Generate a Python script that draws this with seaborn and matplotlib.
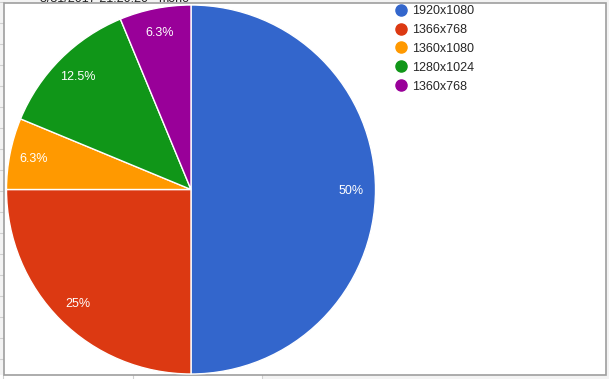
import numpy as np
import matplotlib.pyplot as plt
import matplotlib.patches as mpatches
from matplotlib.lines import Line2D
import seaborn as sns

# Chart data
resolutions = ['1920x1080', '1366x768', '1360x1080', '1280x1024', '1360x768']
counts = [8, 4, 1, 2, 1]
pct_labels = ['50%', '25%', '6.3%', '12.5%', '6.3%']
colors = ['#3366cc', '#dc3912', '#ff9900', '#109618', '#990099']
title_cells = ['3/31/2017 21:20:20', 'mono']

sns.set_theme(style='white')
plt.rcParams['font.family'] = ['Liberation Sans', 'DejaVu Sans']

W, H = 609, 379
fig = plt.figure(figsize=(W / 100, H / 100), dpi=100)
fig.patch.set_facecolor('#f3f3f3')

def fx(px):
    return px / W

def fy(py):
    return 1 - py / H

# spreadsheet cells behind the chart
for yy in range(2, 379, 21):
    fig.add_artist(Line2D([0, fx(4)], [fy(yy), fy(yy)], color='#cfcfcf', lw=0.8, zorder=-3))
fig.add_artist(mpatches.Rectangle((0, 0), fx(262), fy(375), facecolor='white',
                                  edgecolor='none', transform=fig.transFigure, zorder=-3))
for xx in [3, 133, 262]:
    fig.add_artist(Line2D([fx(xx), fx(xx)], [0, fy(375)], color='#d0d0d0', lw=0.8, zorder=-3))

# chart frame
fig.add_artist(mpatches.Rectangle((fx(4), fy(375)), fx(606) - fx(4), fy(3) - fy(375),
                                  facecolor='white', edgecolor='#9e9e9e', lw=1.2,
                                  transform=fig.transFigure, zorder=-2))

# clipped title cells above the chart
fig.text(fx(40), fy(2.5), title_cells[0], fontsize=9, color='#222222', va='baseline')
fig.text(fx(158), fy(2.5), title_cells[1], fontsize=9, color='#222222', va='baseline')

ax = fig.add_axes([fx(6.5), 5 / H, 369 / W, 369 / H])
ax.pie(counts, colors=colors, startangle=90, counterclock=False, radius=1,
       labels=None, wedgeprops=dict(edgecolor='white', linewidth=1))
ax.set_xlim(-1, 1)
ax.set_ylim(-1, 1)
ax.axis('off')

# percentage labels placed at wedge mid-angles
total = sum(counts)
start = 90.0
for c, lab in zip(counts, pct_labels):
    sweep = 360.0 * c / total
    mid = np.deg2rad(start - sweep / 2)
    ax.text(0.87 * np.cos(mid), 0.87 * np.sin(mid) - 0.006, lab, ha='center', va='center',
            color='white', fontsize=9)
    start -= sweep

handles = [Line2D([], [], marker='o', linestyle='none', markersize=8,
                  markerfacecolor=c, markeredgecolor=c) for c in colors]
fig.legend(handles, resolutions, loc='upper left', bbox_to_anchor=(fx(395), fy(5)),
           frameon=False, fontsize=9, handletextpad=0.4, labelspacing=0.55,
           handlelength=1.0, borderaxespad=0, borderpad=0)

fig.savefig('out.png', dpi=100, facecolor=fig.get_facecolor())
